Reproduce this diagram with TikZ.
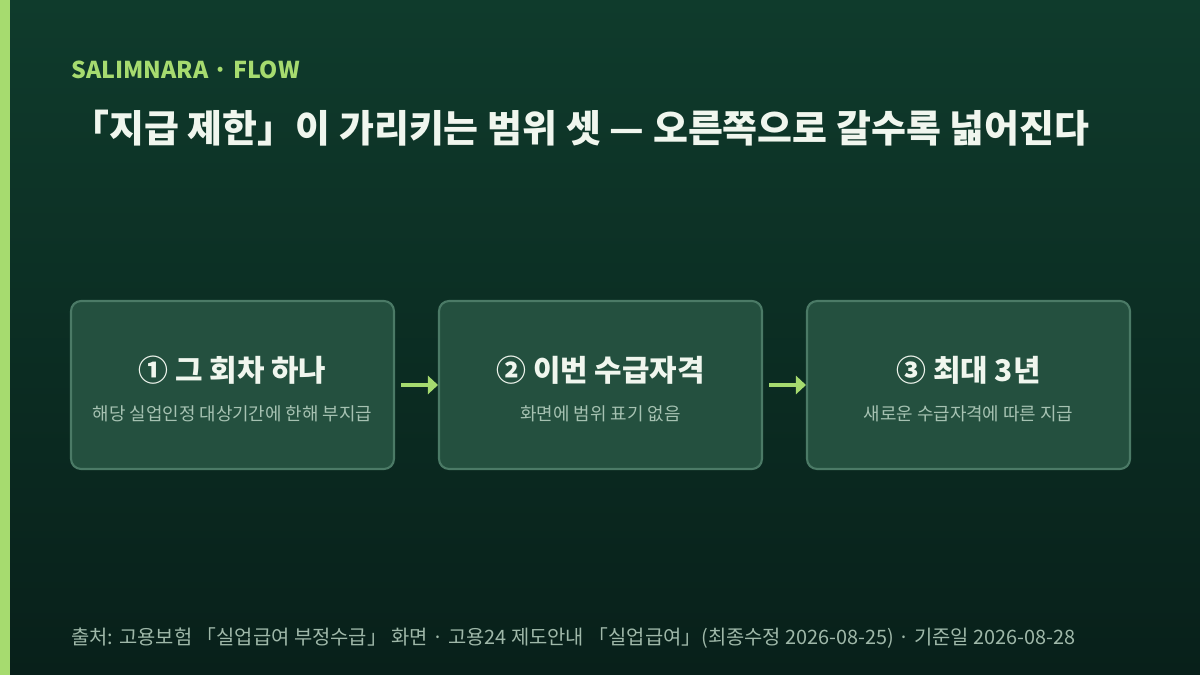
\documentclass[tikz,border=0pt]{standalone}
\usepackage{fontspec}
\setmainfont{Noto Sans CJK KR}
\usetikzlibrary{arrows.meta}

\definecolor{bgtop}{HTML}{0F3B2C}
\definecolor{bgbot}{HTML}{08201A}
\definecolor{accent}{HTML}{A6DB6F}
\definecolor{boxfill}{HTML}{24503F}
\definecolor{boxline}{HTML}{4B7A66}
\definecolor{subtext}{HTML}{A6C2B2}
\definecolor{notetext}{HTML}{9FB8A9}
\definecolor{titletext}{HTML}{F0F6EE}

\tikzset{
  stagebox/.style={draw=boxline, line width=1.2pt, fill=boxfill,
       rounded corners=0.2cm, minimum width=6.46cm, minimum height=3.36cm,
       inner sep=0cm},
  stagetitle/.style={text=titletext, font=\fontsize{17pt}{20pt}\selectfont\bfseries,
       inner sep=0cm},
  stagenote/.style={text=subtext, font=\fontsize{10.2pt}{12pt}\selectfont,
       inner sep=0cm},
  flowarrow/.style={draw=accent, line width=2.6pt,
       -{Triangle[length=0.2cm, width=0.36cm]}, shorten <=0.12cm}
}

\begin{document}
\begin{tikzpicture}[x=0.02cm, y=-0.02cm]

% background and side bar
\useasboundingbox (0,0) rectangle (1200,675);
\shade[top color=bgtop, bottom color=bgbot] (0,0) rectangle (1200,675);
\fill[accent] (0,0) rectangle (10,675);

% heading
\node[anchor=base west, inner sep=0cm, text=accent,
      font=\fontsize{13.2pt}{15pt}\selectfont\bfseries] (kicker) at (71,79)
  {SALIMNARA · FLOW};
\node[anchor=west, inner sep=0cm, text=titletext,
      font=\fontsize{21.6pt}{25pt}\selectfont\bfseries] (headline) at (71,128)
  {「지급 제한」이 가리키는 범위 셋 — 오른쪽으로 갈수록 넓어진다};

% the three stages
\node[stagebox] (b1) at (232.5,385) {};
\node[stagebox] (b2) at (600.5,385) {};
\node[stagebox] (b3) at (968.5,385) {};

\node[stagetitle] (t1) at ([yshift=0.3cm]b1.center) {① 그 회차 하나};
\node[stagenote]  (n1) at ([yshift=-0.58cm]b1.center) {해당 실업인정 대상기간에 한해 부지급};
\node[stagetitle] (t2) at ([yshift=0.3cm]b2.center) {② 이번 수급자격};
\node[stagenote]  (n2) at ([yshift=-0.58cm]b2.center) {화면에 범위 표기 없음};
\node[stagetitle] (t3) at ([yshift=0.3cm]b3.center) {③ 최대 3년};
\node[stagenote]  (n3) at ([yshift=-0.58cm]b3.center) {새로운 수급자격에 따른 지급};

\draw[flowarrow] (b1) -- (b2);
\draw[flowarrow] (b2) -- (b3);

% source line
\node[anchor=west, inner sep=0cm, text=notetext,
      font=\fontsize{11.3pt}{13pt}\selectfont] (source) at (71,638)
  {출처: 고용보험 「실업급여 부정수급」 화면 · 고용24 제도안내 「실업급여」(최종수정 2026-08-25) · 기준일 2026-08-28};

\end{tikzpicture}
\end{document}
